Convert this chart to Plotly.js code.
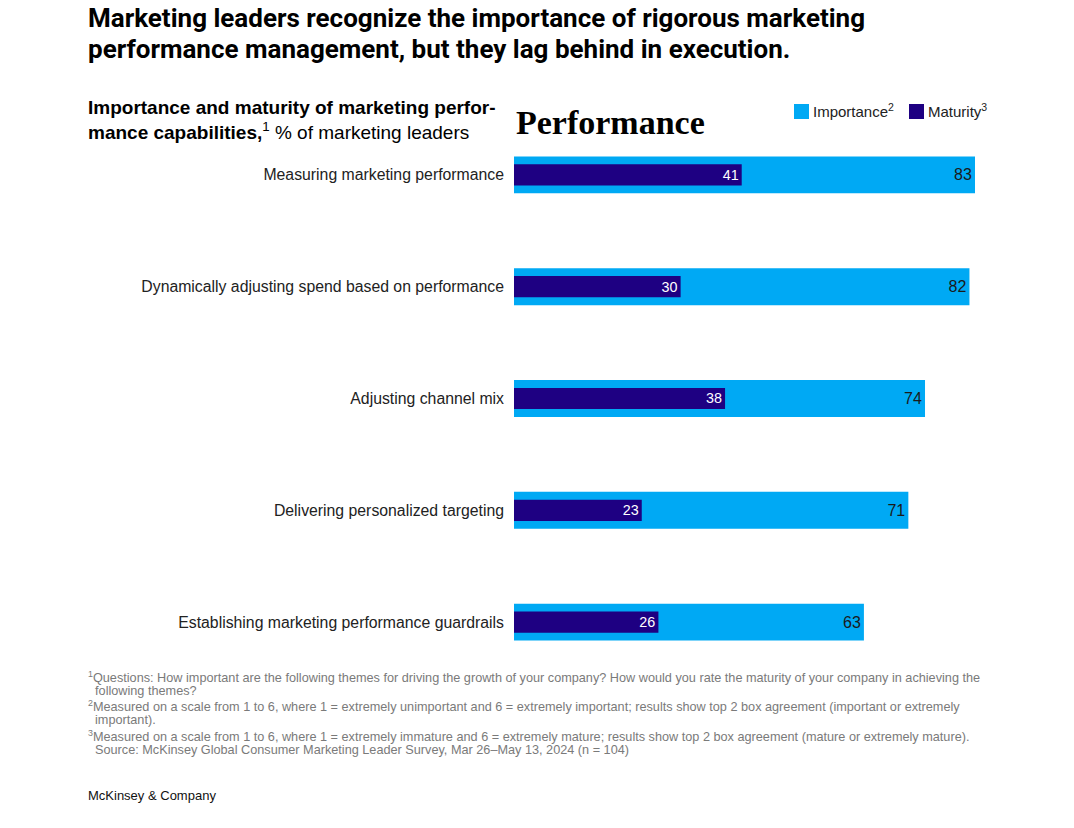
<!DOCTYPE html>
<html>
<head>
<meta charset="utf-8">
<script src="https://cdn.plot.ly/plotly-3.0.1.min.js"></script>
<style>html,body{margin:0;padding:0;background:#fff;}#chart{width:1074px;height:828px;}</style>
</head>
<body>
<div id="chart"></div>
<script>
const categories = [
  "Measuring marketing performance",
  "Dynamically adjusting spend based on performance",
  "Adjusting channel mix",
  "Delivering personalized targeting",
  "Establishing marketing performance guardrails"
];
const importance = [83, 82, 74, 71, 63];
const maturity = [41, 30, 38, 23, 26];
const seriesNames = ["Importance", "Maturity"];
const seriesNotes = ["2", "3"];
const seriesColors = ["#00A9F4", "#1E0082"];

const BASE = "Liberation Sans, Arial, sans-serif";
const IND = "\u00A0\u00A0";

const W = 1074, H = 828;
const L = 514, R = 99, T = 119, B = 150;
const PW = W - L - R, PH = H - T - B;
const px = v => (v - L) / PW;
const py = v => (H - B - v) / PH;

const traces = [
  {
    type: "bar", orientation: "h", name: seriesNames[0],
    x: importance, y: categories, width: 0.33,
    marker: {color: seriesColors[0]},
    text: importance.map(String), textposition: "inside", insidetextanchor: "end",
    textfont: {family: BASE, size: 16, color: "#1a1a1a"},
    hoverinfo: "x+y", showlegend: false
  },
  {
    type: "bar", orientation: "h", name: seriesNames[1],
    x: maturity, y: categories, width: 0.19,
    marker: {color: seriesColors[1]},
    text: maturity.map(String), textposition: "inside", insidetextanchor: "end",
    textfont: {family: BASE, size: 16, color: "#ffffff"},
    hoverinfo: "x+y", showlegend: false
  }
];

const titleLines = [
  "Marketing leaders recognize the importance of rigorous marketing",
  "performance management, but they lag behind in execution."
];
const subtitleLines = [
  "<b>Importance and maturity of marketing perfor-</b>",
  "<b>mance capabilities,</b><sup>1</sup> % of marketing leaders"
];
const footLines = [
  "<sup>1</sup>Questions: How important are the following themes for driving the growth of your company? How would you rate the maturity of your company in achieving the",
  IND + "following themes?",
  "<sup>2</sup>Measured on a scale from 1 to 6, where 1 = extremely unimportant and 6 = extremely important; results show top 2 box agreement (important or extremely",
  IND + "important).",
  "<sup>3</sup>Measured on a scale from 1 to 6, where 1 = extremely immature and 6 = extremely mature; results show top 2 box agreement (mature or extremely mature).",
  IND + "Source: McKinsey Global Consumer Marketing Leader Survey, Mar 26\u2013May 13, 2024 (n = 104)"
];

const annotations = [];
const shapes = [];
const titleY = [18, 49];
titleLines.forEach((t, i) => annotations.push({
  text: "<b>" + t + "</b>", xref: "paper", yref: "paper", x: px(86), y: py(titleY[i]),
  xanchor: "left", yanchor: "middle", showarrow: false,
  font: {family: "Roboto, Liberation Sans, sans-serif", size: 26, color: "#000"}
}));
const subY = [108, 131];
subtitleLines.forEach((t, i) => annotations.push({
  text: t, xref: "paper", yref: "paper", x: px(86), y: py(subY[i]),
  xanchor: "left", yanchor: "middle", showarrow: false,
  font: {family: BASE, size: 19, color: "#000"}
}));
annotations.push({
  text: "Performance", xref: "paper", yref: "paper", x: px(514), y: py(122),
  xanchor: "left", yanchor: "middle", showarrow: false,
  font: {family: "Liberation Serif, DejaVu Serif, serif", size: 34, color: "#000", weight: 700}
});
const footY = [677, 691, 706, 720, 736, 750];
footLines.forEach((t, i) => annotations.push({
  text: t, xref: "paper", yref: "paper", x: px(86), y: py(footY[i]),
  xanchor: "left", yanchor: "middle", showarrow: false,
  font: {family: BASE, size: 12.7, color: "#7a7a7a"}
}));
annotations.push({
  text: "McKinsey & Company", xref: "paper", yref: "paper", x: px(86), y: py(795),
  xanchor: "left", yanchor: "middle", showarrow: false,
  font: {family: BASE, size: 13, color: "#111"}
});
const legX = [794, 909];
seriesNames.forEach((n, i) => {
  shapes.push({type: "rect", xref: "paper", yref: "paper",
    x0: px(legX[i]), x1: px(legX[i] + 15), y0: py(104), y1: py(119),
    fillcolor: seriesColors[i], line: {width: 0}});
  annotations.push({
    text: n + "<sup>" + seriesNotes[i] + "</sup>", xref: "paper", yref: "paper",
    x: px(legX[i] + 17), y: py(111), xanchor: "left", yanchor: "middle", showarrow: false,
    font: {family: BASE, size: 15, color: "#222"}
  });
});

const layout = {
  width: W, height: H,
  margin: {l: L, r: R, t: T, b: B},
  paper_bgcolor: "#fff", plot_bgcolor: "#fff",
  barmode: "overlay",
  showlegend: false,
  xaxis: {range: [0, 83], showgrid: false, zeroline: false, showticklabels: false, showline: false, fixedrange: true},
  yaxis: {
    autorange: "reversed", showgrid: false, zeroline: false, showline: false,
    ticks: "", ticklabelstandoff: 9,
    tickfont: {family: BASE, size: 15.8, color: "#222"}, fixedrange: true
  },
  annotations: annotations,
  shapes: shapes
};

Plotly.newPlot("chart", traces, layout, {displayModeBar: false});
</script>
</body>
</html>
